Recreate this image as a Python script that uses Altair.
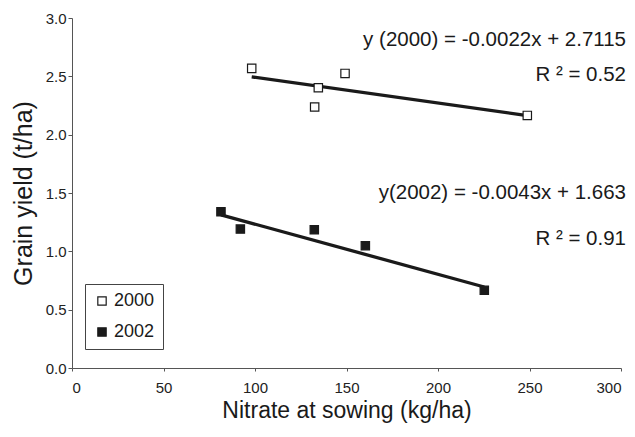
import altair as alt
import pandas as pd

# Grain yield vs. soil nitrate at sowing, two seasons
nitrate_2000 = [98.2, 132.6, 134.6, 149.2, 248.8]
yield_2000 = [2.568, 2.237, 2.402, 2.525, 2.165]
nitrate_2002 = [81.4, 92.0, 132.4, 160.3, 225.3]
yield_2002 = [1.339, 1.191, 1.185, 1.048, 0.666]

# Linear fits reported on the chart
fit_2000 = {"slope": -0.0022, "intercept": 2.7115, "r2": 0.52}
fit_2002 = {"slope": -0.0043, "intercept": 1.663, "r2": 0.91}

years = ["2000", "2002"]
font = "Liberation Sans"

points = pd.DataFrame(
    {
        "nitrate": nitrate_2000 + nitrate_2002,
        "yield": yield_2000 + yield_2002,
        "year": ["2000"] * len(nitrate_2000) + ["2002"] * len(nitrate_2002),
    }
)

fit_rows = []
for year, xs, fit in [("2000", nitrate_2000, fit_2000), ("2002", nitrate_2002, fit_2002)]:
    for x in (min(xs), max(xs)):
        fit_rows.append({"year": year, "nitrate": x, "yield": fit["slope"] * x + fit["intercept"]})
fits = pd.DataFrame(fit_rows)

labels = pd.DataFrame(
    {
        "nitrate": [300, 300, 300, 300],
        "yield": [2.81, 2.51, 1.50, 1.105],
        "text": [
            f"y (2000) = {fit_2000['slope']}x + {fit_2000['intercept']}",
            f"R ² = {fit_2000['r2']}",
            f"y(2002) = {fit_2002['slope']}x + {fit_2002['intercept']}",
            f"R ² = {fit_2002['r2']}",
        ],
    }
)

x_enc = alt.X(
    "nitrate:Q",
    scale=alt.Scale(domain=[0, 300], nice=False),
    axis=alt.Axis(
        title="Nitrate at  sowing (kg/ha)",
        values=[0, 50, 100, 150, 200, 250, 300],
        grid=False,
        tickSize=3,
        labelPadding=9,
        titlePadding=4,
    ),
)
y_enc = alt.Y(
    "yield:Q",
    scale=alt.Scale(domain=[0, 3], nice=False),
    axis=alt.Axis(
        title="Grain yield (t/ha)",
        values=[0, 0.5, 1, 1.5, 2, 2.5, 3],
        format=".1f",
        grid=False,
        tickSize=4,
        labelPadding=2,
        titlePadding=9,
    ),
)

scatter = (
    alt.Chart(points)
    .mark_point(shape="square", size=70, strokeWidth=1.2, opacity=1)
    .encode(
        x=x_enc,
        y=y_enc,
        fill=alt.Fill(
            "year:N",
            scale=alt.Scale(domain=years, range=["#ffffff", "#1a1a1a"]),
            legend=alt.Legend(
                title=None,
                orient="none",
                legendX=13,
                legendY=266,
                strokeColor="#444444",
                fillColor="#ffffff",
                padding=8,
                labelFont=font,
                labelFontSize=18,
                labelColor="#1a1a1a",
                symbolSize=70,
                symbolStrokeColor="#1a1a1a",
                symbolStrokeWidth=1.2,
                rowPadding=13,
                labelOffset=3,
            ),
        ),
        stroke=alt.value("#1a1a1a"),
    )
)

lines = (
    alt.Chart(fits)
    .mark_line(color="#1a1a1a", strokeWidth=3.3)
    .encode(x="nitrate:Q", y="yield:Q", detail="year:N")
)

text = (
    alt.Chart(labels)
    .mark_text(align="right", baseline="middle", font=font, fontSize=20.5, color="#1a1a1a", dx=5)
    .encode(x="nitrate:Q", y="yield:Q", text="text:N")
)

chart = (
    alt.layer(lines, scatter, text)
    .properties(
        width=549,
        height=350,
        autosize=alt.AutoSizeParams(type="none"),
        padding={"left": 72, "top": 18, "right": 14, "bottom": 69},
        background="#ffffff",
    )
    .configure_view(stroke=None)
    .configure_axis(
        domainColor="#555555",
        tickColor="#555555",
        labelFont=font,
        labelFontSize=15,
        labelColor="#222222",
        titleFont=font,
        titleFontWeight="normal",
        titleColor="#1a1a1a",
    )
    .configure_axisX(titleFontSize=23)
    .configure_axisY(titleFontSize=25)
)

chart.save("out.html", embed_options={"renderer": "svg", "actions": False})
